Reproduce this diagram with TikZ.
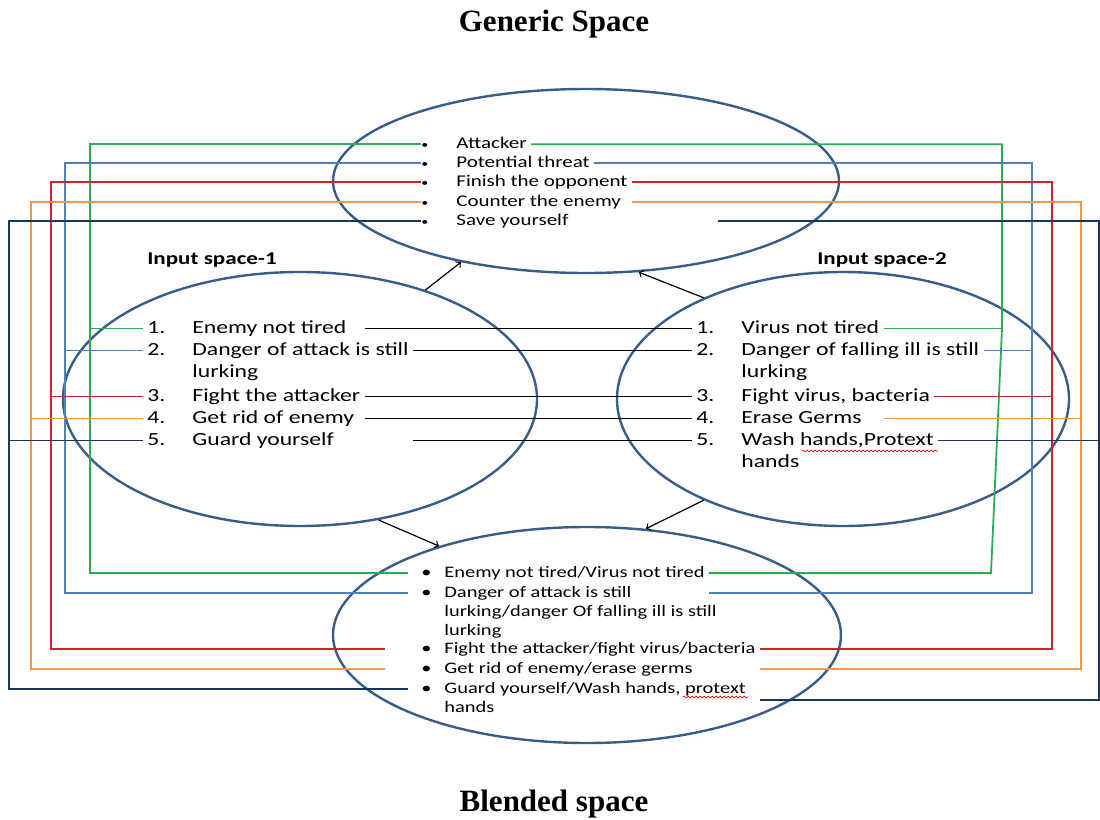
\documentclass[tikz,border=0pt]{standalone}
\usepackage{fontspec}
\usepackage{xcolor}
\usetikzlibrary{shapes.geometric,decorations.pathmorphing}
\newfontfamily\calib[FakeStretch=1.28]{Carlito}
\newfontfamily\timesrm{Liberation Serif}
\definecolor{ellblue}{RGB}{56,93,138}
\definecolor{lgreen}{RGB}{40,175,85}
\definecolor{lblue}{RGB}{79,129,189}
\definecolor{lred}{RGB}{200,40,40}
\definecolor{lorange}{RGB}{247,150,70}
\definecolor{lnavy}{RGB}{23,55,94}
\tikzset{
  space/.style={ellipse,draw=ellblue,line width=1.2pt,inner sep=0pt},
  title/.style={font=\timesrm\bfseries\fontsize{15.5}{18}\selectfont},
  head/.style={font=\calib\bfseries\fontsize{9}{11}\selectfont,inner sep=0pt},
  gbul/.style={font=\calib\fontsize{5.5}{9.6}\selectfont,inner xsep=0pt,inner ysep=2pt,anchor=base west,execute at begin node=\strut},
  gtext/.style={font=\calib\fontsize{8.2}{9.6}\selectfont,inner sep=2pt,anchor=base west,execute at begin node=\strut},
  inum/.style={font=\calib\fontsize{9.25}{11.2}\selectfont,inner sep=2pt,anchor=base west,execute at begin node=\strut},
  itext/.style={font=\calib\fontsize{9.25}{11.2}\selectfont,inner sep=2pt,align=left,anchor=base west,execute at begin node=\strut},
  bbul/.style={font=\calib\fontsize{8}{9.7}\selectfont,inner xsep=0pt,inner ysep=2pt,anchor=base west,execute at begin node=\strut},
  btext/.style={font=\calib\fontsize{8}{9.7}\selectfont,inner sep=2pt,align=left,anchor=base west,execute at begin node=\strut},
  link/.style={line width=0.8pt},
  gline/.style={lgreen,line width=0.9pt},
  bline/.style={lblue,line width=0.9pt},
  rline/.style={lred,line width=0.9pt},
  oline/.style={lorange,line width=0.9pt},
  nline/.style={lnavy,line width=0.9pt},
  flow/.style={->,line width=0.6pt},
  squig/.style={red,line width=0.35pt,decorate,decoration={snake,amplitude=0.45pt,segment length=2pt}}
}

\begin{document}
\begin{tikzpicture}[x=0.5pt,y=-0.5pt]
\useasboundingbox (0,0) rectangle (1100,820);

\node[space,minimum width=253pt,minimum height=92pt] (generic) at (586,181) {};
\node[space,minimum width=237pt,minimum height=127pt] (input1) at (300,399) {};
\node[space,minimum width=226pt,minimum height=127pt] (input2) at (843,399) {};
\node[space,minimum width=254pt,minimum height=108pt] (blend) at (587,635) {};

\node[title] (gtitle) at (554,24) {Generic Space};
\node[title] (btitle) at (554,804) {Blended space};
\node[head] (h1) at (212,260) {Input space-1};
\node[head] (h2) at (882,260) {Input space-2};

\node[gbul] (gb1) at (421,148) {•};
\node[gtext] (gt1) at ([xshift=15.5pt]gb1.base west) {Attacker};
\node[gbul] (gb2) at (421,167) {•};
\node[gtext] (gt2) at ([xshift=15.5pt]gb2.base west) {Potential threat};
\node[gbul] (gb3) at (421,186) {•};
\node[gtext] (gt3) at ([xshift=15.5pt]gb3.base west) {Finish the opponent};
\node[gbul] (gb4) at (421,206) {•};
\node[gtext] (gt4) at ([xshift=15.5pt]gb4.base west) {Counter the enemy};
\node[gbul] (gb5) at (421,225) {•};
\node[gtext] (gt5) at ([xshift=15.5pt]gb5.base west) {Save yourself};

% multi-line items: base anchor sits on the last line
\node[inum] (ln1) at (143,333) {1.};
\node[itext] (lt1) at ([xshift=22.5pt]ln1.base west) {Enemy not tired};
\node[inum] (ln2) at (143,355) {2.};
\node[itext] (lt2) at ([xshift=22.5pt,yshift=-11.2pt]ln2.base west) {Danger of attack is still\\lurking};
\node[inum] (ln3) at (143,401) {3.};
\node[itext] (lt3) at ([xshift=22.5pt]ln3.base west) {Fight the attacker};
\node[inum] (ln4) at (143,423) {4.};
\node[itext] (lt4) at ([xshift=22.5pt]ln4.base west) {Get rid of enemy};
\node[inum] (ln5) at (143,445) {5.};
\node[itext] (lt5) at ([xshift=22.5pt]ln5.base west) {Guard yourself};

\node[inum] (rn1) at (692,333) {1.};
\node[itext] (rt1) at ([xshift=22.5pt]rn1.base west) {Virus not tired};
\node[inum] (rn2) at (692,355) {2.};
\node[itext] (rt2) at ([xshift=22.5pt,yshift=-11.2pt]rn2.base west) {Danger of falling ill is still\\lurking};
\node[inum] (rn3) at (692,401) {3.};
\node[itext] (rt3) at ([xshift=22.5pt]rn3.base west) {Fight virus, bacteria};
\node[inum] (rn4) at (692,423) {4.};
\node[itext] (rt4) at ([xshift=22.5pt]rn4.base west) {Erase Germs};
\node[inum] (rn5) at (692,445) {5.};
\node[itext] (rt5) at ([xshift=22.5pt,yshift=-11.2pt]rn5.base west) {Wash hands,Protext\\hands};

\node[bbul] (bb1) at (421,577) {•};
\node[btext] (bt1) at ([xshift=9.5pt]bb1.base west) {Enemy not tired/Virus not tired};
\node[bbul] (bb2) at (421,597) {•};
\node[btext] (bt2) at ([xshift=9.5pt,yshift=-19.4pt]bb2.base west) {Danger of attack is still\\lurking/danger Of falling ill is still\\lurking};
\node[bbul] (bb3) at (421,653) {•};
\node[btext] (bt3) at ([xshift=9.5pt]bb3.base west) {Fight the attacker/fight virus/bacteria};
\node[bbul] (bb4) at (421,673) {•};
\node[btext] (bt4) at ([xshift=9.5pt]bb4.base west) {Get rid of enemy/erase germs};
\node[bbul] (bb5) at (421,693) {•};
\node[btext] (bt5) at ([xshift=9.5pt,yshift=-9.7pt]bb5.base west) {Guard yourself/Wash hands, protext\\hands};

\draw[squig] (802,451) -- (938,451);
\draw[squig] (683,697) -- (748,697);

\draw[flow] (input1.41) -- (generic.213);
\draw[flow] (input2.144) -- (generic.300);
\draw[flow] (input1.303) -- (blend.149);
\draw[flow] (input2.216) -- (blend.61);

\draw[link] (lt3.east |- rn1.west) -- (rn1.west);
\draw[link] (lt2.east |- rn2.west) -- (rn2.west);
\draw[link] (lt3.east |- rn3.west) -- (rn3.west);
\draw[link] (lt3.east |- rn4.west) -- (rn4.west);
\draw[link] (lt2.east |- rn5.west) -- (rn5.west);

\coordinate (gL) at (90,0);
\coordinate (bL) at (65,0);
\coordinate (rL) at (51,0);
\coordinate (oL) at (31,0);
\coordinate (nL) at (9,0);
\coordinate (gR) at (1002,0);
\coordinate (gR2) at (991,0);
\coordinate (bR) at (1032,0);
\coordinate (rR) at (1052,0);
\coordinate (oR) at (1081,0);
\coordinate (nR) at (1099,0);

\draw[gline] (gb1.west) -| (gL |- bb1.west) -- ([xshift=-6.5pt]bb1.west);
\draw[gline] (gL |- ln1.west) -- (ln1.west);
\draw[gline] (gt1.east) -| (gR |- rn1.east) -- (gR2 |- bb1.east) -- (bt1.east |- bb1.east);
\draw[gline] (rt1.east |- rn1.east) -- (gR |- rn1.east);

\draw[bline] (gb2.west) -| (bL |- bb2.west) -- ([xshift=-6.5pt]bb2.west);
\draw[bline] (bL |- ln2.west) -- (ln2.west);
\draw[bline] (gt2.east) -| (bR |- bb2.east) -- (bt1.east |- bb2.east);
\draw[bline] (rt2.east |- rn2.east) -- (bR |- rn2.east);

\draw[rline] (gb3.west) -| (rL |- bb3.west) -- ([xshift=-18pt]bb3.west);
\draw[rline] (rL |- ln3.west) -- (ln3.west);
\draw[rline] (gt3.east) -| (rR |- bb3.east) -- (bt3.east |- bb3.east);
\draw[rline] (rt3.east |- rn3.east) -- (rR |- rn3.east);

\draw[oline] (gb4.west) -| (oL |- bb4.west) -- ([xshift=-18pt]bb4.west);
\draw[oline] (oL |- ln4.west) -- (ln4.west);
\draw[oline] (gt3.east |- gt4.east) -| (oR |- bb4.east) -- (bt3.east |- bb4.east);
\draw[oline] (rt1.east |- rn4.east) -- (oR |- rn4.east);

\draw[nline] (gb5.west) -| (nL |- bb5.west) -- ([xshift=-6.5pt]bb5.west);
\draw[nline] (nL |- ln5.west) -- (ln5.west);
\draw[nline] ([xshift=72.5pt]gt5.east) -| (nR |- bt5.east) -- (bt3.east |- bt5.east);
\draw[nline] (rt5.east |- rn5.east) -- (nR |- rn5.east);
\end{tikzpicture}
\end{document}
